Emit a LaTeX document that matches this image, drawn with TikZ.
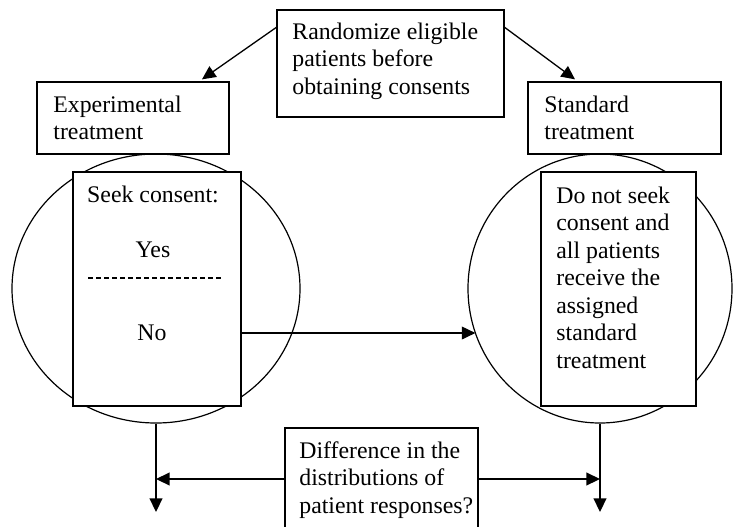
\documentclass[tikz,border=0pt]{standalone}
\usepackage{fontspec}
\setmainfont{Liberation Serif}
\usetikzlibrary{arrows.meta,shapes.geometric}
\begin{document}
\begin{tikzpicture}[x=0.5pt,y=-0.5pt,
  font=\fontsize{11.9}{13.75}\selectfont,
  box/.style={draw, line width=0.65pt, fill=white, inner sep=0pt, rectangle},
  ell/.style={draw, line width=0.6pt, ellipse, inner sep=0pt},
  txt/.style={inner sep=0pt, align=left, anchor=north west},
  ctxt/.style={inner sep=0pt, anchor=base},
  arr/.style={-{Triangle[length=6.8pt,width=6.4pt]}, line width=0.65pt},
  ln/.style={line width=0.6pt}]
\useasboundingbox (0,0) rectangle (734,526);
\clip (0,0) rectangle (734,526);
% ellipses
\node[ell, minimum width=144pt, minimum height=134.5pt] (lell) at (156,288.5) {};
\node[ell, minimum width=132pt, minimum height=134.5pt] (rell) at (600,288.5) {};
% boxes
\node[box, minimum width=113.5pt, minimum height=53.5pt] (topbox) at (390.5,63.5) {};
\node[box, minimum width=96pt, minimum height=36pt] (expbox) at (133,118) {};
\node[box, minimum width=96.5pt, minimum height=36pt] (stdbox) at (624.5,118) {};
\node[box, minimum width=84pt, minimum height=117pt] (lrect) at (157,289) {};
\node[box, minimum width=77.5pt, minimum height=117pt] (rrect) at (618.5,289) {};
\node[box, minimum width=96.5pt, minimum height=51pt] (botbox) at (381.5,479) {};
% texts
\node[txt] (toptxt) at (292,19) {\rule{0pt}{10pt}Randomize eligible\\patients before\\obtaining consents};
\node[txt] (exptxt) at (53,92) {\rule{0pt}{10pt}Experimental\\treatment};
\node[txt] (stdtxt) at (544,92) {\rule{0pt}{10pt}Standard\\treatment};
\node[txt] (rtxt) at (556,183) {\rule{0pt}{10pt}Do not seek\\consent and\\all patients\\receive the\\assigned\\standard\\treatment};
\node[txt] (bottxt) at (299,438) {\rule{0pt}{10pt}Difference in the\\distributions of\\patient responses?};
\node[ctxt] (seek) at (153,202) {Seek consent:};
\node[ctxt] (yes) at (153,257) {Yes};
\node[ctxt] (no) at (152,340) {No};
\coordinate (dashL) at (88,278);
\coordinate (dashR) at (223,278);
\draw[line width=0.9pt, dash pattern=on 2.6pt off 1.4pt] (dashL) -- (dashR);
% arrows
\draw[arr] ([yshift=-9pt]topbox.north west) -- ([xshift=34.5pt,yshift=1pt]expbox.north);
\draw[arr] ([yshift=-9pt]topbox.north east) -- ([xshift=-24.75pt,yshift=1pt]stdbox.north);
\draw[arr] ([yshift=-22pt]lrect.east) -- ([xshift=4pt,yshift=-22.25pt]rell.west);
\coordinate (lend) at (156,512);
\coordinate (rend) at (600,512);
\draw[arr] (lell.south) -- (lend);
\draw[arr] (rell.south) -- (rend);
\draw[arr] (botbox.west) -- (botbox.west -| lell.south);
\draw[arr] (botbox.east) -- (botbox.east -| rell.south);
\end{tikzpicture}
\end{document}
